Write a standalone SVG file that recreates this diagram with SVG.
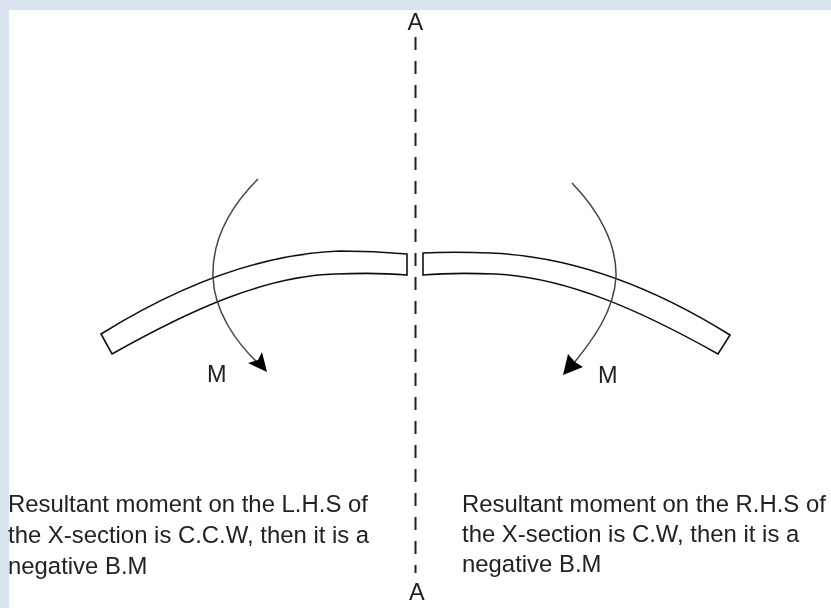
<svg xmlns="http://www.w3.org/2000/svg" width="831" height="608" viewBox="0 0 831 608">
<defs><filter id="soft" x="0" y="0" width="100%" height="100%"><feGaussianBlur stdDeviation="0.6"/></filter></defs>
<style>
text{font-family:"Liberation Sans",Arial,sans-serif;font-size:23.5px;fill:#222}
.body{font-size:23.9px}
.beam{fill:#fff;stroke:#111;stroke-width:1.6}
.moment{fill:none;stroke:#444;stroke-width:1.5}
.head{fill:#000}
.axis{fill:none;stroke:#222;stroke-width:2;stroke-dasharray:13 11}
</style>
<rect width="831" height="608" fill="#dae4f0"/>
<rect x="9" y="10" width="822" height="598" fill="#fff"/>
<g filter="url(#soft)">
<g id="connectors">
<path class="axis" d="M415.5 37V573"/>
</g>
<g id="beam-left"><path class="beam" d="M101 334C180 285 260 254 340 251C365 251 385 252 407 254V275C385 273 360 273 335 274C265 276 190 310 112 354Z"/></g>
<g id="beam-right"><path class="beam" d="M730 335C650 285 570 256 490 253C465 252 445 252 423 253V275C445 273 470 273 495 274C565 277 640 310 718 354Z"/></g>
<g id="moment-left">
<path class="moment" d="M258 179C225 212 212 245 213 277C214 310 235 342 260 365"/>
<path class="head" d="M267 372L248 363L258 360L262 352Z"/>
<text x="207" y="382">M</text>
</g>
<g id="moment-right">
<path class="moment" d="M572 183C600 212 617 245 616 277C614 310 595 338 569 369"/>
<path class="head" d="M563 375L568 354L575 362L583 367Z"/>
<text x="598" y="383">M</text>
</g>
<g id="label-top"><text x="407.5" y="30">A</text></g>
<g id="label-bottom"><text x="409" y="600">A</text></g>
<g id="text-left"><text class="body" x="8" y="512">Resultant moment on the L.H.S of</text><text class="body" x="8" y="543">the X-section is C.C.W, then it is a</text><text class="body" x="8" y="574">negative B.M</text></g>
<g id="text-right"><text class="body" x="462" y="512">Resultant moment on the R.H.S of</text><text class="body" x="462" y="542">the X-section is C.W, then it is a</text><text class="body" x="462" y="572">negative B.M</text></g>
</g>
</svg>
